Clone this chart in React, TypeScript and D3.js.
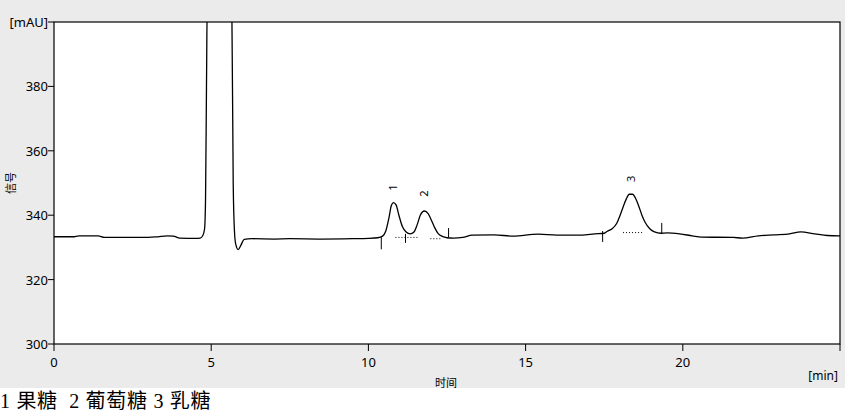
import React from "react";
import * as d3 from "d3";

// Chromatogram signal: time [min], signal [mAU]
const times = [
  0, 0.6, 0.8, 1.4, 1.6, 2.5, 3.0, 3.3, 3.6, 3.8, 4.0, 4.5, 4.65, 4.73, 4.79, 4.82, 4.85, 4.88,
  5.62, 5.66, 5.7, 5.74, 5.78, 5.86, 5.95, 6.05, 6.3, 7.0, 7.5, 8.5, 9.5, 10.0, 10.3,
  10.45, 10.55, 10.65, 10.73, 10.8, 10.88, 10.97, 11.08, 11.2, 11.33, 11.45, 11.55, 11.65, 11.78,
  11.9, 12.0, 12.1, 12.22, 12.35, 12.5, 12.7, 13.0, 13.3, 14.0, 14.6, 15.4, 16.0, 16.8, 17.2, 17.5,
  17.6, 17.75, 17.9, 18.0, 18.1, 18.2, 18.3, 18.4, 18.5, 18.6, 18.7, 18.8, 18.95, 19.1, 19.3, 19.5,
  19.9, 20.3, 20.6, 21.6, 21.9, 22.4, 22.9, 23.4, 23.75, 24.2, 24.6, 25.0,
];
const signal = [
  333.3, 333.3, 333.6, 333.6, 333.1, 333.1, 333.1, 333.3, 333.6, 333.5, 332.9, 332.8, 332.9, 333.6, 335.8, 345, 380, 410,
  410, 400, 350, 335, 331, 329.3, 330.8, 332.5, 332.7, 332.6, 332.7, 332.6, 332.7, 332.8, 333.0,
  333.5, 335.0, 339.0, 343.0, 343.9, 343.2, 340.0, 336.5, 334.8, 334.2, 334.8, 337.0, 340.0, 341.3,
  340.5, 338.5, 336.3, 334.3, 333.4, 333.0, 332.9, 333.1, 333.8, 333.9, 333.5, 334.1, 333.8, 333.8, 334.2, 334.4,
  335.0, 335.8, 337.5, 339.8, 342.5, 345.0, 346.5, 346.5, 345.2, 342.8, 340.0, 337.8, 335.8, 334.8, 334.4, 334.5,
  334.2, 333.6, 333.2, 333.1, 332.9, 333.6, 333.9, 334.2, 334.8, 334.2, 333.7, 333.6,
];

// Peak labels
const peakLabels = ["1", "2", "3"];
const peakLabelTimes = [10.76, 11.75, 18.34];
const peakLabelValues = [348.6, 346.7, 351.3];

// Integration markers: time, from value, to value
const markerTimes = [10.41, 11.18, 12.55, 17.45, 19.33];
const markerFrom = [333.2, 334.2, 336.0, 335.1, 337.6];
const markerTo = [329.4, 331.4, 333.2, 331.7, 334.2];

// Dotted baselines: start time, end time, value
const baseStart = [10.86, 11.97, 18.1];
const baseEnd = [11.56, 12.29, 18.75];
const baseValue = [333.1, 332.7, 334.6];

const xTicks = [0, 5, 10, 15, 20, 25];
const xTickLabels = ["0", "5", "10", "15", "20", ""];
const yTicks = [300, 320, 340, 360, 380, 400];
const yTickLabels = ["300", "320", "340", "360", "380", "[mAU]"];

const W = 851;
const H = 412;
const L = 54, R = 840, T = 22, B = 344;
const FONT = "'Noto Sans', 'DejaVu Sans', sans-serif";

export default function App() {
  const x = d3.scaleLinear().domain([0, 25]).range([L, R]);
  const y = d3.scaleLinear().domain([300, 400]).range([B, T]);
  const pts: [number, number][] = times.map((t, i) => [t, signal[i]]);
  const line = d3
    .line<[number, number]>()
    .x((d) => x(d[0]))
    .y((d) => y(d[1]))
    .curve(d3.curveMonotoneX);

  return (
    <svg
      width={W}
      height={H}
      style={{ position: "absolute", left: 0, top: 0, background: "#fff" }}
    >
      <defs>
        <clipPath id="plotclip">
          <rect x={L} y={T} width={R - L} height={B - T} />
        </clipPath>
      </defs>
      <rect x={0} y={0} width={845} height={388} fill="#ebebeb" />
      <rect x={L} y={T} width={R - L} height={B - T} fill="#fff" />

      <path
        d={line(pts) || ""}
        fill="none"
        stroke="#000"
        strokeWidth={1.3}
        clipPath="url(#plotclip)"
      />

      {markerTimes.map((t, i) => (
        <line
          key={"m" + i}
          x1={x(t)}
          x2={x(t)}
          y1={y(markerFrom[i])}
          y2={y(markerTo[i])}
          stroke="#000"
          strokeWidth={1}
        />
      ))}
      {baseStart.map((t, i) => (
        <line
          key={"b" + i}
          x1={x(t)}
          x2={x(baseEnd[i])}
          y1={y(baseValue[i])}
          y2={y(baseValue[i])}
          stroke="#000"
          strokeWidth={1}
          strokeDasharray="1,2"
        />
      ))}
      {peakLabels.map((s, i) => (
        <text
          key={"p" + i}
          transform={`translate(${x(peakLabelTimes[i])},${y(peakLabelValues[i])}) rotate(-90)`}
          textAnchor="middle"
          dominantBaseline="central"
          fontFamily={FONT}
          fontSize={11}
          fill="#000"
        >
          {s}
        </text>
      ))}

      <rect x={L} y={T} width={R - L} height={B - T} fill="none" stroke="#000" strokeWidth={1.2} />

      {yTicks.map((v, i) => (
        <g key={"y" + i}>
          <line x1={L - 6} x2={L} y1={y(v)} y2={y(v)} stroke="#000" />
          <text
            x={L - 6}
            y={y(v)}
            textAnchor="end"
            dominantBaseline="central"
            fontFamily={FONT}
            fontSize={13}
            fill="#000"
          >
            {yTickLabels[i]}
          </text>
        </g>
      ))}
      {xTicks.map((v, i) => (
        <g key={"x" + i}>
          <line x1={x(v)} x2={x(v)} y1={B} y2={B + 7} stroke="#000" />
          <text
            x={x(v)}
            y={362}
            textAnchor="middle"
            dominantBaseline="central"
            fontFamily={FONT}
            fontSize={13}
            fill="#000"
          >
            {xTickLabels[i]}
          </text>
        </g>
      ))}
      <text x={838} y={375} textAnchor="end" dominantBaseline="central" fontFamily={FONT} fontSize={12} fill="#000">
        [min]
      </text>
      <text x={446} y={382} textAnchor="middle" dominantBaseline="central" fontFamily="'Noto Sans CJK SC', sans-serif" fontSize={11} fill="#000">
        时间
      </text>
      <text
        transform="translate(10,183) rotate(-90)"
        textAnchor="middle"
        dominantBaseline="central"
        fontFamily="'Noto Sans CJK SC', sans-serif"
        fontSize={11}
        fill="#000"
      >
        信号
      </text>
      <text
        x={0}
        y={408}
        fontFamily="'Liberation Serif', 'Noto Sans CJK SC', serif"
        fontSize={20}
        letterSpacing={0.7}
        fill="#000"
        style={{ whiteSpace: "pre" }}
      >
        {"1 果糖  2 葡萄糖 3 乳糖"}
      </text>
    </svg>
  );
}
